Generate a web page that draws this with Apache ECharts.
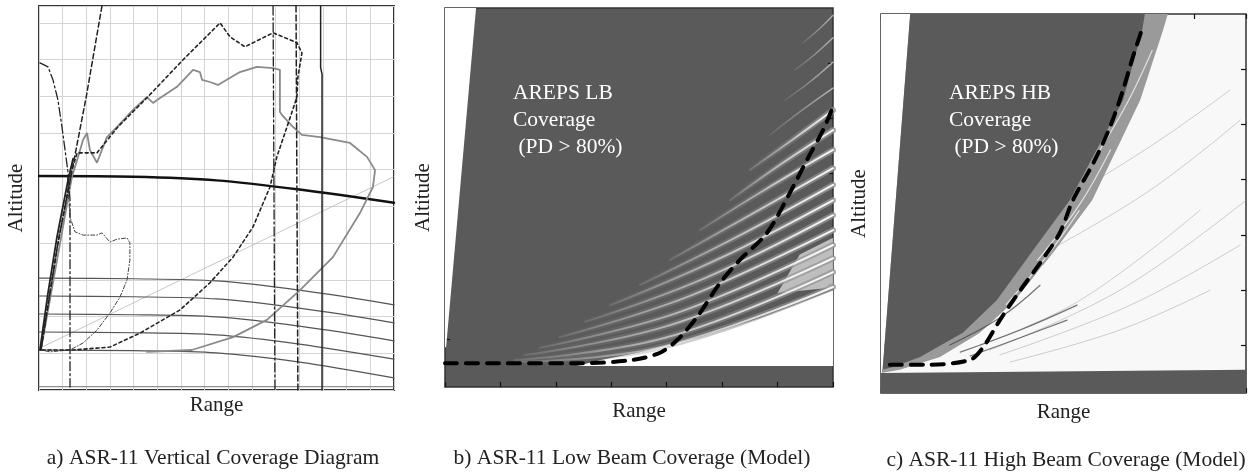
<!DOCTYPE html>
<html>
<head>
<meta charset="utf-8">
<script src="https://cdn.jsdelivr.net/npm/echarts@6/dist/echarts.min.js"></script>
<style>
  html, body { margin: 0; padding: 0; background: #fff; }
  #chart { width: 1254px; height: 472px; }
</style>
</head>
<body>
<div id="chart"></div>
<script>
// ---- panel a: vertical coverage diagram (range 0..150, altitude 0..104.6 grid units)
const aThick = [[0, 58.3], [40, 58.1], [75, 57.1], [110, 54.6], [150, 51.0]];
const aLevels = [
  [[0, 30.5], [40, 30.3], [75, 29.7], [110, 27.2], [150, 23.2]],
  [[0, 25.6], [40, 25.4], [75, 24.8], [110, 22.3], [150, 18.3]],
  [[0, 20.7], [40, 20.5], [75, 19.9], [110, 17.4], [150, 13.4]],
  [[0, 15.8], [40, 15.6], [75, 15.0], [110, 12.5], [150, 8.4]],
  [[0, 10.9], [40, 10.7], [75, 10.1], [110, 7.6], [150, 3.3]]
];
const aDiag = [[0.4, 11.4], [149.6, 58.0]];
const aVertSolid = [[119.0, 104.6], [119.0, 87.8], [119.6, 86.0], [119.6, 0]];
const aVertDashDot = [[98.9, 104.6], [99.7, 0]];
const aVertDashed = [[108.6, 104.6], [109.4, 0]];
const aBottomRule = [[0, 0.9], [150, 0.9]];
const aSteepSolid = [[0.4, 10.9], [3.8, 26.4], [7.6, 41.7], [12.3, 57.2], [14.4, 63]];
const aSteepDashed = [[0.8, 10.9], [8, 40], [13.5, 58.3], [20, 80], [26.6, 104.6]];
const aLongDash = [[0.4, 89.1], [3.8, 88.0], [5.9, 84.5], [8.0, 79.0], [9.7, 71.7], [11.0, 65.4],
  [12.3, 59.1], [13.1, 51.8], [13.1, 42.8], [13.1, 0.8]];
const aGrayLobe = [[0.8, 10.9], [13.9, 58.0], [16.5, 63.5], [18.6, 68.1], [20.3, 70.0], [21.5, 65.4],
  [24.5, 61.9], [28.7, 68.9], [33.0, 71.7], [39.7, 76.3], [45.6, 79.8], [48.2, 78.2], [49.9, 79.0],
  [58.3, 82.6], [65.1, 87.2], [68.0, 86.6], [68.9, 84.5], [72.2, 83.9], [75.6, 83.1], [84.9, 86.6],
  [92.1, 88.0], [98.9, 87.7], [101.8, 87.2], [101.8, 75.7], [102.7, 74.9], [107.3, 71.7], [111.1, 69.5],
  [118.7, 68.9], [131.4, 67.3], [138.6, 63.5], [142.0, 59.9], [141.1, 55.3], [135.6, 48.2], [124.2, 36.2],
  [110.3, 27.2], [96.3, 19.1], [82.0, 14.4], [64.6, 10.9], [45.6, 10.4]];
const aDottedLobe = [[1.3, 10.9], [14.4, 10.9], [30.0, 11.7], [42.7, 15.5], [59.6, 21.8], [72.2, 29.2],
  [82.0, 36.2], [90.4, 44.4], [97.6, 55.3], [100.5, 63.5], [104.8, 71.7], [109.0, 79.8], [109.4, 85.3],
  [111.1, 91.8], [109.0, 94.6], [98.9, 97.3], [87.0, 93.5], [80.7, 96.2], [76.5, 100.0], [60.8, 89.9],
  [45.6, 79.6], [33.4, 71.7], [24.5, 64.6], [16.1, 64.6], [13.9, 59.9], [8, 40], [3, 20], [0.8, 10.9]];
const aSmallLobe = [[12, 58], [13.1, 47.1], [15.2, 43.1], [18.6, 42.2], [24.5, 42.2], [26.6, 42.8],
  [30.0, 40.3], [33.0, 41.1], [37.2, 41.4], [38.4, 40.1], [38.4, 35.4], [37.2, 30.0], [34.2, 25.3],
  [30.0, 21.0], [24.5, 16.3], [18.6, 12.8], [13.1, 10.9], [4.6, 10.4], [0.8, 10.9]];

// ---- panel b: low beam model (range 0..70, altitude 0..68.6)
const bWhiteWedge = [[0, 68.6], [5.6, 68.6], [0.2, 7.2], [0, 7.2]];
const bWhiteLow = [[23.8, 3.8], [70, 3.8], [70, 17.5], [56.8, 12.5], [46.0, 9.0], [35.2, 6.3], [28.1, 4.9]];
const bPale = [[60, 17], [70, 18], [70, 27], [64, 24]];
const bStreaks = [
  [[64.6, 62.3], [67.3, 64.6], [70, 67.3]],
  [[63.1, 57.4], [66.6, 60.1], [70, 63.2]],
  [[61.3, 51.9], [65.8, 55.2], [70, 58.8]],
  [[58.6, 45.6], [64.0, 49.8], [70, 54.1]],
  [[55.0, 39.3], [62.6, 44.7], [70, 50.1]],
  [[51.4, 33.8], [60.4, 40.2], [70, 46.5]],
  [[46.0, 28.4], [57.7, 35.7], [70, 42.9]],
  [[40.6, 23.0], [55.0, 31.1], [70, 39.6]],
  [[35.2, 18.5], [52.3, 27.0], [70, 36.6]],
  [[29.8, 14.8], [49.6, 23.3], [70, 33.8]],
  [[25.3, 11.8], [46.9, 19.7], [70, 31.1]],
  [[20.7, 9.0], [44.2, 16.5], [70, 28.4]],
  [[17.1, 7.1], [42.4, 13.6], [70, 25.7]],
  [[14.4, 5.8], [40.6, 11.2], [70, 23.3]],
  [[12.6, 4.9], [39.7, 8.9], [70, 20.8]],
  [[12.1, 4.5], [38.8, 7.2], [70, 18.1]]
];
const bDashed = [[0, 4.3], [24.4, 4.3], [33.9, 4.9], [38.8, 6.2], [41.9, 8.5], [45.5, 12.7], [49.6, 18.8],
  [53.2, 23.0], [58.1, 27.9], [62.2, 35.1], [65.3, 41.1], [68.2, 46.5], [70.0, 50.7]];

// ---- panel c: high beam model (range 0..70, altitude 0..68.6)
const cWhiteWedge = [[0, 68.6], [5.6, 68.6], [0.2, 2.9], [0, 2.9]];
const cDarkEdge = [[50.6, 68.6], [50.1, 65.7], [46.4, 53.0], [36.2, 34.9], [29.2, 25.9], [22.2, 16.8],
  [15.7, 10.9], [7.5, 6.5], [2.3, 4.7], [0.2, 4.2]];
const cBandEdge = [[55.0, 68.6], [54.1, 65.7], [49.7, 53.0], [40.5, 34.9], [33.4, 25.9], [25.7, 16.8],
  [19.0, 10.9], [11.3, 6.5], [3.6, 4.2]];
const cBottom = [[0, 0], [70, 0], [70, 4.2], [0, 3.6]];
const cFaint = [
  [[20.9, 7.8], [45.8, 18.6], [70, 34.9]],
  [[22.8, 6.9], [47.8, 15.9], [68.9, 26.8]],
  [[24.7, 5.6], [45.8, 11.4], [63.1, 18.6]],
  [[19.0, 8.7], [38.2, 16.8], [61.2, 33.1]],
  [[32.4, 25.9], [51.6, 36.7], [68.9, 49.4]],
  [[38.2, 36.7], [53.5, 45.8], [66.9, 54.8]]
];
const cBandStreaks = [
  [[30.0, 24.0], [38.0, 34.0], [44.0, 44.0]],
  [[24.0, 16.0], [32.0, 25.0], [38.0, 33.0]],
  [[18.0, 10.0], [26.0, 17.0], [31.0, 23.0]],
  [[42.0, 44.0], [47.5, 53.0], [52.0, 62.0]]
];
const cDarkStreaks = [
  [[15.2, 7.4], [26.7, 11.4], [37.6, 15.9]],
  [[17.1, 6.7], [26.7, 10.0], [35.7, 13.2]],
  [[13.2, 8.7], [22.8, 13.6], [30.5, 19.5]]
];
const cDashed = [[1.7, 5.1], [8.8, 5.1], [17.1, 6.0], [19.6, 8.3], [22.8, 13.2], [26.7, 18.6], [30.5, 23.5],
  [34.3, 29.0], [36.8, 34.9], [40.7, 41.6], [43.9, 48.1], [46.4, 54.8], [48.3, 60.8], [50.2, 66.2]];

const modelTicks = [8.6, 18.6, 28.6, 38.6, 48.6, 58.6];

const serif = '"Liberation Serif", "Times New Roman", serif';
const darkGray = '#5a5a5a';

function line(xi, data, color, width, type, z, smooth) {
  return {
    type: 'line', xAxisIndex: xi, yAxisIndex: xi, data: data,
    symbol: 'none', silent: true, animation: false, z: z || 2, smooth: smooth || false,
    lineStyle: { color: color, width: width, type: type || 'solid', cap: 'round' }
  };
}

function poly(xi, data, color, z) {
  return {
    type: 'custom', xAxisIndex: xi, yAxisIndex: xi, data: data,
    silent: true, animation: false, clip: true, z: z || 1,
    renderItem: function (params, api) {
      if (params.dataIndex !== 0) return null;
      return {
        type: 'polygon',
        shape: { points: data.map(p => api.coord(p)) },
        style: { fill: color }
      };
    }
  };
}

function fade(from, to) {
  return {
    type: 'linear', x: 0, y: 0, x2: 1, y2: 0,
    colorStops: [{ offset: 0, color: from }, { offset: 1, color: to }]
  };
}

function nameStyle() {
  return { fontFamily: serif, fontSize: 21, color: '#222' };
}

function modelX(grid, gap, pos) {
  return {
    gridIndex: grid, type: 'value', min: 0, max: 70, interval: 10, position: pos,
    name: pos === 'top' ? '' : 'Range', nameLocation: 'middle', nameGap: gap, nameTextStyle: nameStyle(),
    axisLine: { show: false, onZero: false }, axisLabel: { show: false }, splitLine: { show: false },
    axisTick: { show: true, inside: true, length: 5, lineStyle: { color: '#111', width: 1.2 } }
  };
}

function modelY(grid, gap, pos) {
  return {
    gridIndex: grid, type: 'value', min: 0, max: 68.6, position: pos,
    name: pos === 'right' ? '' : 'Altitude', nameLocation: 'middle', nameGap: gap, nameRotate: 90,
    nameTextStyle: nameStyle(),
    axisLine: { show: false, onZero: false }, axisLabel: { show: false }, splitLine: { show: false },
    axisTick: { show: true, inside: true, length: 5, customValues: modelTicks, lineStyle: { color: '#111', width: 1.2 } }
  };
}

const series = [];

// panel a
series.push(line(0, aDiag, '#b8b8b8', 0.8));
series.push(line(0, aBottomRule, '#777', 1));
aLevels.forEach(l => series.push(line(0, l, '#555', 1.2, 'solid', 2, 0.3)));
series.push(line(0, aThick, '#111', 2.5, 'solid', 2, 0.3));
series.push(line(0, aGrayLobe, '#8a8a8a', 1.8));
series.push(line(0, aSmallLobe, '#444', 1, [4, 2, 1, 2]));
series.push(line(0, aDottedLobe, '#222', 1.6, [3, 3]));
series.push(line(0, aSteepSolid, '#222', 1.8));
series.push(line(0, aSteepDashed, '#222', 1.5, [5, 3]));
series.push(line(0, aLongDash, '#222', 1.3, [9, 3, 2, 3]));
series.push(line(0, aVertSolid, '#222', 1.5));
series.push(line(0, aVertDashDot, '#222', 1.3, [9, 3, 2, 3]));
series.push(line(0, aVertDashed, '#222', 1.5, [6, 3]));

// panel b
series.push(poly(1, bWhiteWedge, '#fff'));
series.push(poly(1, bWhiteLow, '#fff'));
series.push(poly(1, bPale, 'rgba(232,232,232,0.7)'));
bStreaks.forEach((s, i) => {
  if (i >= 4) series.push(line(1, s, fade('rgba(140,140,140,0)', 'rgba(150,150,150,0.8)'), 6, 'solid', 2, 0.4));
});
bStreaks.forEach((s, i) => {
  series.push(line(1, s, i < 4 ? fade('rgba(200,200,200,0.1)', 'rgba(210,210,210,0.8)') : fade('rgba(255,255,255,0.1)', 'rgba(255,255,255,0.95)'),
    i < 4 ? 1.4 : 2, 'solid', 3, 0.4));
});
series.push(line(1, bDashed, '#000', 4, [12, 9], 5, 0.3));

// panel c
series.push(poly(2, cWhiteWedge, '#fff'));
series.push(poly(2, [[0.2, 2.9], [5.6, 68.6]].concat(cBandEdge).concat([[0, 3.6]]), '#9a9a9a'));
series.push(poly(2, [[0.2, 2.9], [5.6, 68.6]].concat(cDarkEdge), darkGray));
series.push(poly(2, cBottom, darkGray));
cFaint.forEach(s => series.push(line(2, s, 'rgba(150,150,150,0.45)', 1, 'solid', 3, 0.4)));
cBandStreaks.forEach(s => series.push(line(2, s, 'rgba(255,255,255,0.7)', 1.2, 'solid', 3, 0.4)));
cDarkStreaks.forEach(s => series.push(line(2, s, 'rgba(60,60,60,0.7)', 1.2, 'solid', 3, 0.4)));
series.push(line(2, cDashed, '#000', 4, [12, 9], 5, 0.3));

const chart = echarts.init(document.getElementById('chart'), null, { renderer: 'canvas' });

chart.setOption({
  animation: false,
  backgroundColor: '#fff',
  grid: [
    { left: 39, top: 6, width: 355, height: 384, show: true, backgroundColor: '#fff', borderColor: '#333', borderWidth: 2 },
    { left: 445, top: 8, width: 388, height: 379, show: true, backgroundColor: darkGray, borderColor: '#333', borderWidth: 1.5 },
    { left: 881, top: 14, width: 365, height: 379, show: true, backgroundColor: '#f8f8f8', borderColor: '#333', borderWidth: 1.5 }
  ],
  xAxis: [
    {
      gridIndex: 0, type: 'value', min: 0, max: 150, interval: 10,
      name: 'Range', nameLocation: 'middle', nameGap: 5, nameTextStyle: nameStyle(),
      axisLine: { show: false }, axisTick: { show: false }, axisLabel: { show: false },
      splitLine: { show: true, lineStyle: { color: '#d4d4d4', width: 1 } }
    },
    modelX(1, 14, 'bottom'),
    modelX(2, 9, 'bottom'),
    modelX(2, 0, 'top')
  ],
  yAxis: [
    {
      gridIndex: 0, type: 'value', min: 0, max: 104.6, interval: 10,
      name: 'Altitude', nameLocation: 'middle', nameGap: 12, nameRotate: 90, nameTextStyle: nameStyle(),
      axisLine: { show: false }, axisTick: { show: false }, axisLabel: { show: false },
      splitLine: { show: true, lineStyle: { color: '#d4d4d4', width: 1 } }
    },
    modelY(1, 11, 'left'),
    modelY(2, 11, 'left'),
    modelY(1, 0, 'right'),
    modelY(2, 0, 'right')
  ],
  series: series,
  graphic: [
    { type: 'text', x: 513, y: 80, z: 10, style: { text: 'AREPS LB\nCoverage\n (PD > 80%)', font: '21.5px ' + serif, lineHeight: 27, fill: '#fff' } },
    { type: 'text', x: 949, y: 80, z: 10, style: { text: 'AREPS HB\nCoverage\n (PD > 80%)', font: '21.5px ' + serif, lineHeight: 27, fill: '#fff' } },
    { type: 'text', x: 213, y: 458, style: { text: 'a) ASR-11 Vertical Coverage Diagram', font: '21.5px ' + serif, fill: '#222', align: 'center', verticalAlign: 'middle' } },
    { type: 'text', x: 632, y: 458, style: { text: 'b) ASR-11 Low Beam Coverage (Model)', font: '21.5px ' + serif, fill: '#222', align: 'center', verticalAlign: 'middle' } },
    { type: 'text', x: 1066, y: 460, style: { text: 'c) ASR-11 High Beam Coverage (Model)', font: '21.5px ' + serif, fill: '#222', align: 'center', verticalAlign: 'middle' } }
  ]
});
</script>
</body>
</html>
